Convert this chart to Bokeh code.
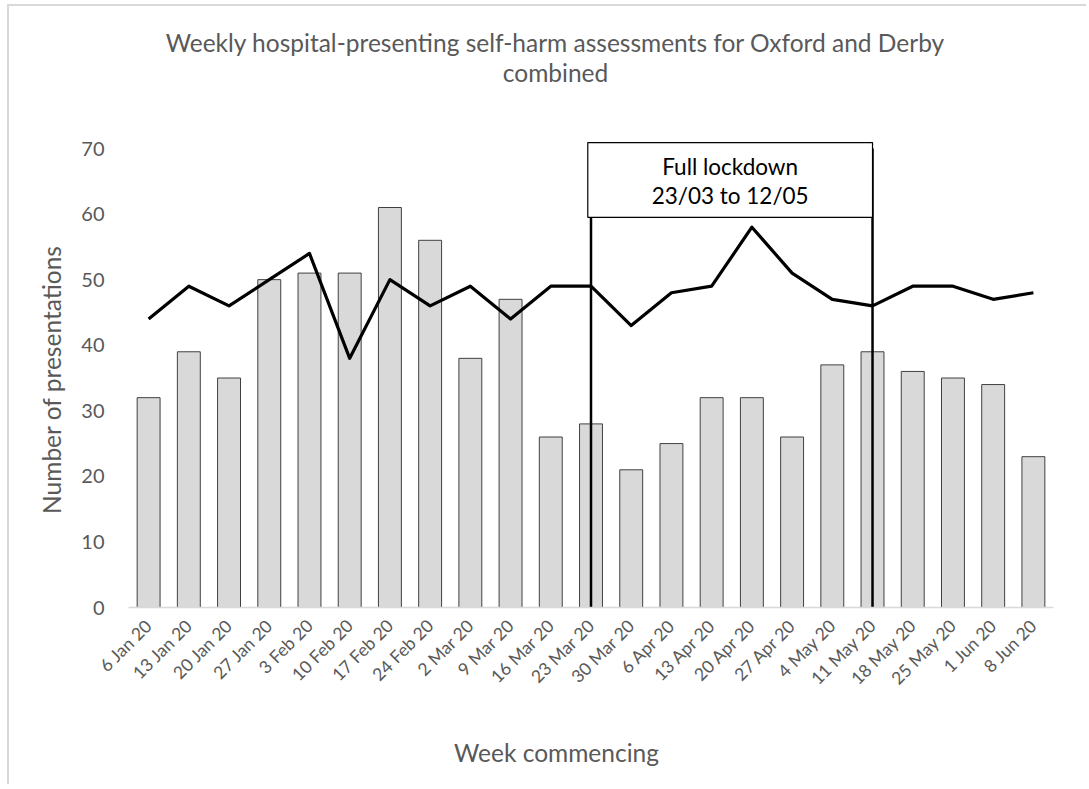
import math
from bokeh.plotting import figure
from bokeh.models import Range1d, FixedTicker
from bokeh.core.properties import value
from bokeh.embed import file_html
from bokeh.resources import INLINE

weeks = ["6 Jan 20", "13 Jan 20", "20 Jan 20", "27 Jan 20", "3 Feb 20", "10 Feb 20",
         "17 Feb 20", "24 Feb 20", "2 Mar 20", "9 Mar 20", "16 Mar 20", "23 Mar 20",
         "30 Mar 20", "6 Apr 20", "13 Apr 20", "20 Apr 20", "27 Apr 20", "4 May 20",
         "11 May 20", "18 May 20", "25 May 20", "1 Jun 20", "8 Jun 20"]
presentations_2020 = [32, 39, 35, 50, 51, 51, 61, 56, 38, 47, 26, 28, 21, 25, 32, 32,
                      26, 37, 39, 36, 35, 34, 23]
previous_mean = [44, 49, 46, 50, 54, 38, 50, 46, 49, 44, 49, 49, 43, 48, 49, 58, 51,
                 47, 46, 49, 49, 47, 48]
y_ticks = [0, 10, 20, 30, 40, 50, 60, 70]
lockdown_start = "23 Mar 20"
lockdown_end = "11 May 20"
lockdown_text = ["Full lockdown", "23/03 to 12/05"]
title_lines = ["Weekly hospital-presenting self-harm assessments for Oxford and Derby",
               "combined"]
x_title = "Week commencing"
y_title = "Number of presentations"

FONT = "Lato"
GREY = "#595959"

# layout geometry (page pixels)
OX, OY = 9, 6                # canvas origin on the page
W, H = 1079, 780             # canvas size
FL, FR, FB, FT = 128, 1053, 607, 148   # where x=-0.5 / x=n-0.5 / y=0 / y=70 fall
n = len(weeks)
ppx = (FR - FL) / n
ppy = (FB - FT) / 70.0
def dx(px):
    return (px - FL) / ppx - 0.5
def dy(py):
    return (FB - py) / ppy

idx = list(range(n))
p = figure(width=W, height=H, output_backend="svg", toolbar_location=None,
           x_range=Range1d(dx(OX), dx(OX + W)), y_range=Range1d(dy(OY + H), dy(OY)),
           min_border_left=0, min_border_right=0, min_border_top=0,
           min_border_bottom=0)
p.outline_line_color = None
p.xgrid.grid_line_color = None
p.ygrid.grid_line_color = None
p.styles = {"margin-left": "7px", "margin-top": "4px",
            "border-left": "2px solid #d9d9d9", "border-top": "2px solid #d9d9d9"}

p.vbar(x=idx, top=presentations_2020, width=0.57, fill_color="#d9d9d9",
       line_color="#404040", line_width=1)
p.line(idx, previous_mean, line_color="black", line_width=3.2, line_join="round")

xs = weeks.index(lockdown_start)
xe = weeks.index(lockdown_end)
p.segment(x0=[xs, xe], y0=[0, 0], x1=[xs, xe], y1=[70, 70], line_color="black",
          line_width=2.5)
p.quad(left=[xs - 0.08], right=[xe], bottom=[59.5], top=[70.9], fill_color="white",
       line_color="black", line_width=1.2)
p.text(x=[(xs - 0.08 + xe) / 2] * 2, y=[67.3, 62.8], text=lockdown_text,
       text_font=value(FONT), text_font_size="22.5px", text_color="black",
       text_align="center", text_baseline="middle")

# axes drawn at fixed data locations inside the frame
p.xaxis.fixed_location = 0
p.xaxis.bounds = (-0.5, n - 0.5)
p.xaxis.ticker = FixedTicker(ticks=idx)
p.xaxis.major_label_overrides = {i: w for i, w in enumerate(weeks)}
p.xaxis.major_label_orientation = math.pi / 4
p.xaxis.major_label_text_font = FONT
p.xaxis.major_label_text_font_size = "17.5px"
p.xaxis.major_label_text_color = GREY
p.xaxis.axis_line_color = "#d9d9d9"
p.xaxis.axis_line_width = 1.5
p.xaxis.major_tick_line_color = None
p.xaxis.minor_tick_line_color = None
p.xaxis.major_label_standoff = 9

p.yaxis.fixed_location = -0.5
p.yaxis.ticker = FixedTicker(ticks=y_ticks)
p.yaxis.major_label_text_font = FONT
p.yaxis.major_label_text_font_size = "20px"
p.yaxis.major_label_text_color = GREY
p.yaxis.axis_line_color = None
p.yaxis.major_tick_line_color = None
p.yaxis.minor_tick_line_color = None
p.yaxis.major_label_standoff = 18

p.text(x=[dx(555)] * 2, y=[dy(42), dy(72)], text=title_lines, text_font=value(FONT),
       text_font_size="24.5px", text_color=GREY, text_align="center",
       text_baseline="middle")
p.text(x=[dx(556)], y=[dy(752)], text=[x_title], text_font=value(FONT),
       text_font_size="24.5px", text_color=GREY, text_align="center",
       text_baseline="middle")
p.text(x=[dx(51)], y=[dy(379)], text=[y_title], text_font=value(FONT),
       text_font_size="24.5px", text_color=GREY, text_align="center",
       text_baseline="middle", angle=math.pi / 2)

open("out.html", "w").write(file_html(p, INLINE))
